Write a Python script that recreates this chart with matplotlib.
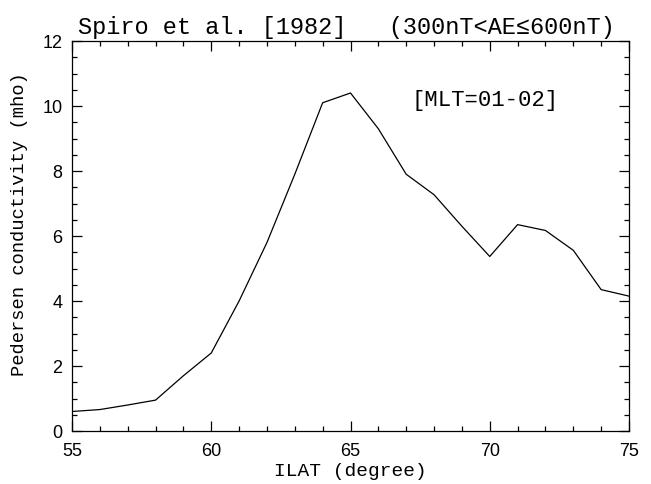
import numpy as np
import matplotlib
matplotlib.use('Agg')
import matplotlib.pyplot as plt
from matplotlib.ticker import MultipleLocator

# ILAT (degree) vs Pedersen conductivity (mho)
ilat = [55, 56, 57, 58, 59, 60, 61, 62, 63, 64, 65,
        66, 67, 68, 69, 70, 71, 72, 73, 74, 75]
sigma_p = [0.6, 0.66, 0.8, 0.95, 1.7, 2.4, 4.0, 5.8, 7.9, 10.1, 10.4,
           9.3, 7.9, 7.27, 6.3, 5.37, 6.35, 6.17, 5.56, 4.35, 4.15]

title = 'Spiro et al. [1982]   (300nT<AE\u2264600nT)'
label = '[MLT=01-02]'

mono = ['Liberation Mono', 'DejaVu Sans Mono']
sans = ['Liberation Sans', 'DejaVu Sans']

fig = plt.figure(figsize=(6.51, 4.85), dpi=100)
ax = fig.add_axes([72/651, 53/485, 557/651, 390/485])

ax.plot(ilat, sigma_p, 'k-', lw=0.9)

ax.set(xlim=(55, 75), ylim=(0, 12))
ax.xaxis.set_major_locator(MultipleLocator(5))
ax.xaxis.set_minor_locator(MultipleLocator(1))
ax.yaxis.set_major_locator(MultipleLocator(2))
ax.yaxis.set_minor_locator(MultipleLocator(0.5))

ax.tick_params(which='both', direction='in', top=True, right=True, width=0.9)
ax.tick_params(which='major', length=7)
ax.tick_params(which='minor', length=3.5)
ax.tick_params(axis='x', pad=8)
ax.tick_params(axis='y', pad=7)
for t in ax.get_xticklabels() + ax.get_yticklabels():
    t.set_family(sans)
    t.set_fontsize(13)
for s in ax.spines.values():
    s.set_linewidth(0.9)

ax.set_xlabel('ILAT (degree)', family=mono, fontsize=14, labelpad=2)
ax.set_ylabel('Pedersen conductivity (mho)', family=mono, fontsize=13.5)
ax.yaxis.set_label_coords(-0.079, 0.533)
ax.set_title(title, family=mono, fontsize=17, pad=6, x=0.493)

ax.text(67.2, 10.2, label, family=mono, fontsize=16, va='center', ha='left')

plt.savefig('out.png', dpi=100)
